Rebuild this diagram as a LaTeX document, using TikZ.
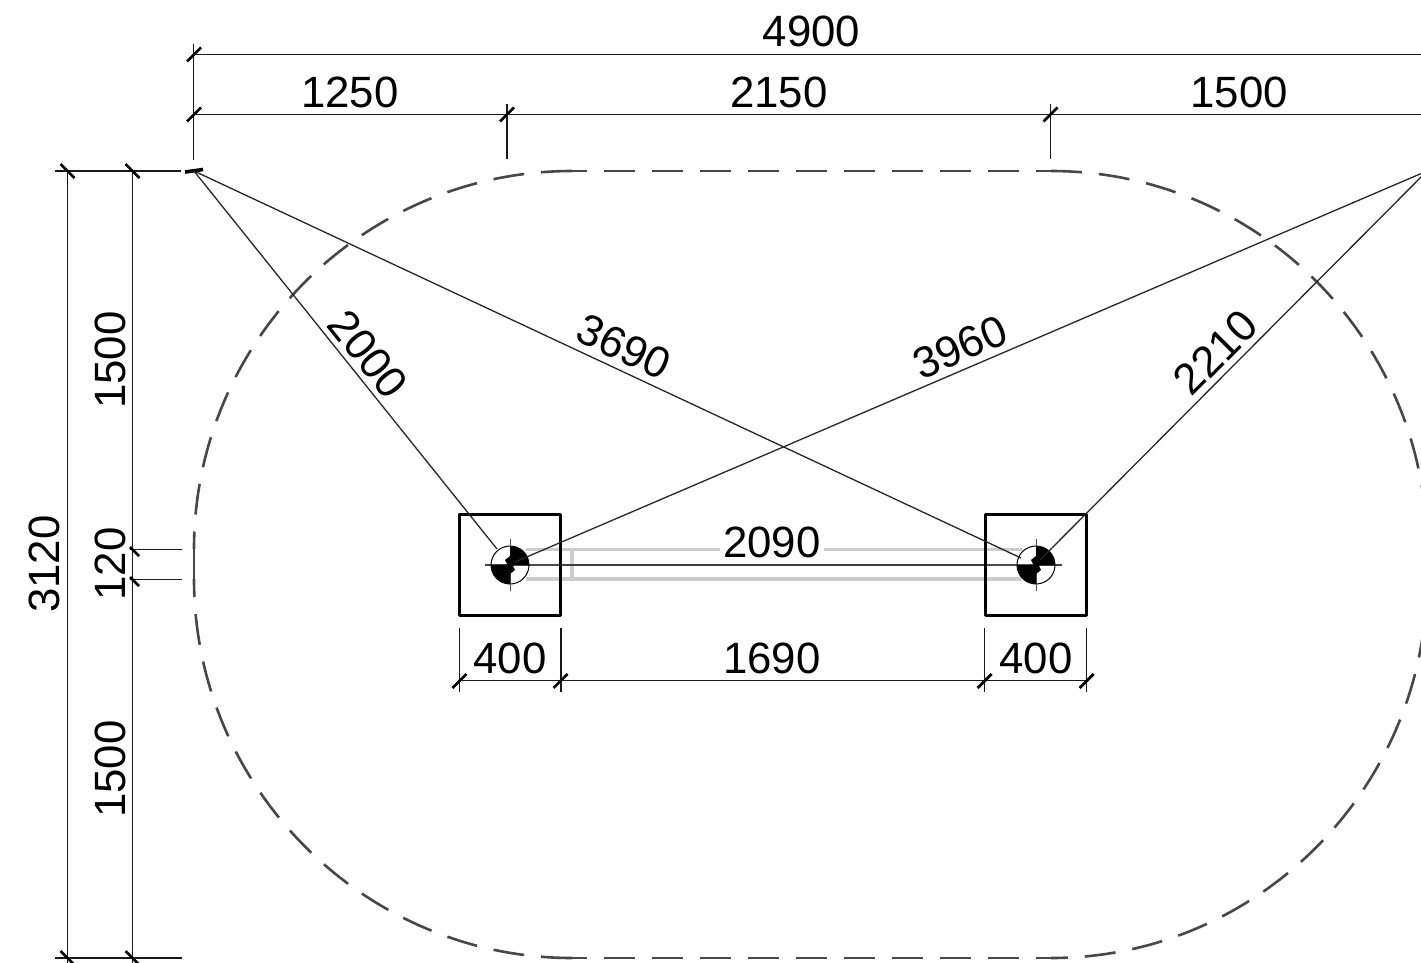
\documentclass[tikz,border=0pt]{standalone}
\usepackage{fontspec}
\setmainfont{Liberation Sans}
\tikzset{
  dimline/.style={line width=1.2pt, black!90},
  dimtick/.style={line width=2.8pt, black},
  dimlabel/.style={font=\fontsize{43.8}{44}\selectfont, inner sep=0pt},
  outline/.style={line width=2.6pt, black!72, dash pattern=on 31pt off 17pt},
  footing/.style={draw, line width=3.8pt, black, line join=round, minimum size=101pt, inner sep=0pt},
  beam/.style={line width=3.2pt, black!20},
}
\begin{document}
\begin{tikzpicture}[x=1pt, y=-1pt]
        \path[use as bounding box] (0,0) rectangle (1421,963);
        \clip (0,0) rectangle (1421,963);

        % main points
        \coordinate (origin) at (194,171);
        \coordinate (farcorner) at (1427,171);
        \coordinate (postL) at (510,565);
        \coordinate (postR) at (1036,565);
        \coordinate (tieLa) at (497,549);
        \coordinate (tieLb) at (515,562);
        \coordinate (tieRa) at (1021,558);
        \coordinate (tieRb) at (1040,560);

        % beam between the posts
        \draw[beam] (526,549.5) -- (1022,549.5);
        \draw[beam] (526,579) -- (1022,579);
        \draw[beam] (572,549) -- (572,579);
        \draw[line width=1.3pt, black!75] (485,565) -- (1062,565);
        \draw[line width=2pt, black!70] (510,565) -- (560,565);
        \draw[line width=2pt, black!70] (986,565) -- (1036,565);

        % canopy outline
        \draw[outline, dash phase=16pt] (572,171) -- (1051,171);
        \draw[outline] (1051,171) .. controls (1259,171) and (1427,341) .. (1427,549);
        \draw[outline] (1427,549) -- (1427,579);
        \draw[outline] (1427,579) .. controls (1427,787) and (1259,958) .. (1051,958);
        \draw[outline, dash phase=16pt] (1051,958) -- (572,958);
        \draw[outline] (572,958) .. controls (364,958) and (194,787) .. (194,579);
        \draw[outline] (194,579) -- (194,549);
        \draw[outline] (572,171) .. controls (364,171) and (194,341) .. (194,549);

        % footings
        \node[footing] (footL) at (postL) {};
        \node[footing] (footR) at (postR) {};

        % posts
        \foreach \p in {postL, postR} {
            \draw[line width=1pt] (\p) circle[radius=19pt];
            \draw[line width=1pt, black!70] ([yshift=-26pt]\p) -- ([yshift=26pt]\p);
            \fill[black] ([xshift=-19pt]\p) .. controls ([xshift=-19pt, yshift=-10.5pt]\p) and ([xshift=-10.5pt, yshift=-19pt]\p) .. ([yshift=-19pt]\p)
                -- ([yshift=-9pt]\p) -- ([xshift=5pt, yshift=-5pt]\p) -- ([xshift=3pt, yshift=-1pt]\p) -- ([xshift=5pt, yshift=2pt]\p) -- ([xshift=1pt, yshift=4pt]\p)
                -- ([xshift=-3pt, yshift=1pt]\p) -- ([xshift=-3pt]\p) -- cycle;
            \fill[black] ([xshift=19pt]\p) .. controls ([xshift=19pt, yshift=10.5pt]\p) and ([xshift=10.5pt, yshift=19pt]\p) .. ([yshift=19pt]\p)
                -- ([yshift=9pt]\p) -- ([xshift=-5pt, yshift=5pt]\p) -- ([xshift=-3pt, yshift=1pt]\p) -- ([xshift=-5pt, yshift=-2pt]\p) -- ([xshift=-1pt, yshift=-4pt]\p)
                -- ([xshift=3pt, yshift=-1pt]\p) -- ([xshift=3pt]\p) -- cycle;
        }

        % setting-out lines
        \draw[line width=1.3pt, black!85] (origin) -- (tieLa);
        \draw[line width=1.3pt, black!85] (origin) -- (tieRa);
        \draw[line width=1.3pt, black!85] (farcorner) -- (tieLb);
        \draw[line width=1.3pt, black!85] (farcorner) -- (tieRb);

        % dimension lines
        \draw[dimline] (194,54.5) -- (1421,54.5);
        \draw[dimline] (194,114.5) -- (1421,114.5);
        \draw[dimline] (193.5,44) -- (193.5,160);
        \draw[dimline] (507,104) -- (507,159);
        \draw[dimline] (1050.5,104) -- (1050.5,159);
        \draw[dimline] (55,171) -- (181,171);
        \draw[dimline] (55,958) -- (182,958);
        \draw[dimline] (130,549.5) -- (182,549.5);
        \draw[dimline] (130,579.5) -- (182,579.5);
        \draw[dimline] (67.5,171) -- (67.5,963);
        \draw[dimline] (132.5,171) -- (132.5,963);
        \draw[dimline] (459,680.7) -- (1087,680.7);
        \foreach \x in {459.5, 561, 984.5, 1086.5}
            \draw[dimline] (\x,628) -- (\x,692);

        % ticks
        \foreach \x/\y in {194/54.5, 194/114.5, 507/114.5, 1050.5/114.5, 459.5/681, 560.5/681, 984.5/681, 1086.5/681}
            \draw[dimtick] (\x-7,\y+7) -- (\x+7,\y-7);
        \foreach \x/\y in {67.5/171, 132.5/171, 67.5/958, 132.5/958}
            \draw[dimtick] (\x-7,\y-7) -- (\x+7,\y+7);
        \foreach \y in {549, 579}
            \draw[dimtick] (130,\y-2) -- (139,\y+7);
        \draw[line width=3.6pt, black] (185,172) -- (203,169.5);

        % labels
        \node[dimlabel] (lblTotal) at (811.5,31) {4900};
        \node[dimlabel] (lblTopA) at (350,92) {1250};
        \node[dimlabel] (lblTopB) at (779,92) {2150};
        \node[dimlabel] (lblTopC) at (1239,92) {1500};
        \node[dimlabel, rotate=90] (lblHeight) at (44,564) {3120};
        \node[dimlabel, rotate=90] (lblSideA) at (110,360) {1500};
        \node[dimlabel, rotate=90] (lblSideB) at (110,564) {120};
        \node[dimlabel, rotate=90] (lblSideC) at (110,769) {1500};
        \node[dimlabel, rotate=-51.3] (lblTieA) at (368,354.5) {2000};
        \node[dimlabel, rotate=-25.1] (lblTieB) at (624,347) {3690};
        \node[dimlabel, rotate=23.2] (lblTieC) at (960,347) {3960};
        \node[dimlabel, rotate=45.2] (lblTieD) at (1215.5,352.5) {2210};
        \node[dimlabel, fill=white, inner xsep=3pt, inner ysep=-5pt] (lblBeam) at (772,542.5) {2090};
        \node[dimlabel] (lblPostA) at (510,658.5) {400};
        \node[dimlabel] (lblSpan) at (772,658.5) {1690};
        \node[dimlabel] (lblPostB) at (1036,658.5) {400};
\end{tikzpicture}
\end{document}
